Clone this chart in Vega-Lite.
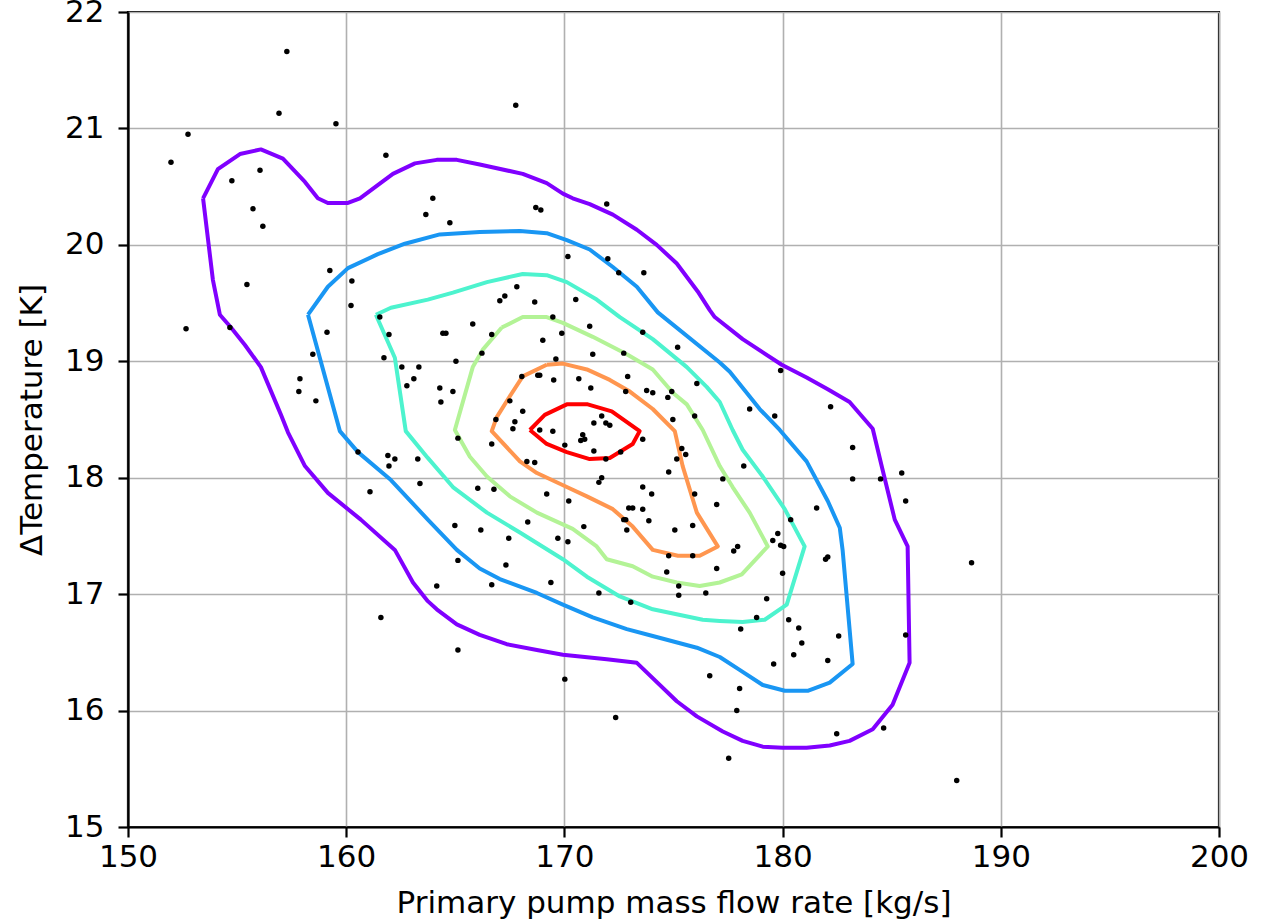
{
  "$schema": "https://vega.github.io/schema/vega-lite/v6.json",
  "width": 1091,
  "height": 815,
  "autosize": {"type": "none"},
  "padding": {"left": 128, "top": 12, "right": 52, "bottom": 95},
  "background": "white",
  "config": {
    "font": "DejaVu Sans",
    "view": {"stroke": "black", "strokeWidth": 2.2},
    "axis": {
      "grid": true,
      "gridColor": "#b0b0b0",
      "gridWidth": 1.6,
      "domainColor": "black",
      "domainWidth": 2.2,
      "tickColor": "black",
      "tickWidth": 2.2,
      "tickSize": 10,
      "labelFontSize": 31,
      "labelColor": "black",
      "titleFontSize": 31,
      "titleFontWeight": "normal",
      "titleColor": "black",
      "labelFlush": false,
      "labelOverlap": false,
      "format": "d"
    }
  },
  "datasets": {
    "pts": [
      {"x":157.28,"y":21.66},{"x":156.92,"y":21.13},{"x":159.53,"y":21.04},{"x":152.75,"y":20.95},{"x":151.97,"y":20.71},
      {"x":161.82,"y":20.77},{"x":156.05,"y":20.64},{"x":154.76,"y":20.55},{"x":155.73,"y":20.31},{"x":156.18,"y":20.16},
      {"x":163.65,"y":20.26},{"x":159.25,"y":19.78},{"x":160.26,"y":19.69},{"x":155.45,"y":19.66},{"x":167.77,"y":21.2},
      {"x":163.97,"y":20.4},{"x":164.75,"y":20.19},{"x":168.69,"y":20.32},{"x":168.92,"y":20.3},{"x":171.94,"y":20.35},
      {"x":170.16,"y":19.9},{"x":171.99,"y":19.88},{"x":172.49,"y":19.76},{"x":173.64,"y":19.76},{"x":167.82,"y":19.64},
      {"x":160.22,"y":19.48},{"x":152.66,"y":19.28},{"x":154.67,"y":19.29},{"x":159.12,"y":19.25},{"x":158.47,"y":19.06},
      {"x":161.54,"y":19.38},{"x":161.96,"y":19.23},{"x":161.73,"y":19.03},{"x":162.55,"y":18.95},{"x":163.33,"y":18.95},
      {"x":163.1,"y":18.85},{"x":162.78,"y":18.79},{"x":157.88,"y":18.85},{"x":157.83,"y":18.74},{"x":158.61,"y":18.66},
      {"x":160.54,"y":18.22},{"x":161.91,"y":18.19},{"x":162.23,"y":18.16},{"x":161.96,"y":18.1},{"x":163.28,"y":18.16},
      {"x":163.38,"y":17.95},{"x":161.09,"y":17.88},{"x":167.04,"y":19.52},{"x":167.27,"y":19.56},{"x":168.64,"y":19.51},
      {"x":170.52,"y":19.53},{"x":165.8,"y":19.32},{"x":164.43,"y":19.24},{"x":164.57,"y":19.24},{"x":166.67,"y":19.23},
      {"x":169.47,"y":19.38},{"x":171.16,"y":19.3},{"x":169.01,"y":19.18},{"x":169.88,"y":19.24},{"x":166.22,"y":19.07},
      {"x":165.03,"y":19.0},{"x":169.61,"y":19.02},{"x":171.3,"y":19.06},{"x":172.72,"y":19.07},{"x":173.59,"y":19.25},
      {"x":175.19,"y":19.12},{"x":168.05,"y":18.87},{"x":168.78,"y":18.88},{"x":168.87,"y":18.88},{"x":169.51,"y":18.84},
      {"x":170.66,"y":18.85},{"x":172.9,"y":18.87},{"x":171.21,"y":18.77},{"x":172.81,"y":18.74},{"x":173.77,"y":18.75},
      {"x":174.05,"y":18.73},{"x":174.74,"y":18.69},{"x":174.92,"y":18.74},{"x":176.07,"y":18.81},{"x":164.29,"y":18.77},
      {"x":164.89,"y":18.74},{"x":164.34,"y":18.65},{"x":167.5,"y":18.66},{"x":168.09,"y":18.57},{"x":166.86,"y":18.5},
      {"x":167.73,"y":18.48},{"x":167.64,"y":18.42},{"x":168.87,"y":18.41},{"x":169.47,"y":18.4},{"x":171.71,"y":18.53},
      {"x":171.35,"y":18.47},{"x":171.9,"y":18.47},{"x":172.08,"y":18.45},{"x":170.84,"y":18.37},{"x":170.75,"y":18.32},
      {"x":170.93,"y":18.33},{"x":170.02,"y":18.28},{"x":171.35,"y":18.23},{"x":172.58,"y":18.22},{"x":173.59,"y":18.33},
      {"x":174.97,"y":18.5},{"x":175.97,"y":18.53},{"x":165.12,"y":18.34},{"x":166.67,"y":18.29},{"x":168.28,"y":18.14},
      {"x":168.64,"y":18.13},{"x":171.9,"y":18.16},{"x":175.38,"y":18.25},{"x":175.56,"y":18.2},{"x":175.15,"y":18.16},
      {"x":174.78,"y":18.05},{"x":171.71,"y":18.0},{"x":171.58,"y":17.96},{"x":166.03,"y":17.91},{"x":166.77,"y":17.9},
      {"x":169.19,"y":17.86},{"x":170.2,"y":17.8},{"x":173.59,"y":17.92},{"x":174.0,"y":17.86},{"x":175.97,"y":17.86},
      {"x":176.98,"y":17.77},{"x":172.95,"y":17.74},{"x":173.13,"y":17.74},{"x":173.59,"y":17.73},{"x":172.72,"y":17.64},
      {"x":172.81,"y":17.64},{"x":173.87,"y":17.63},{"x":172.86,"y":17.55},{"x":175.06,"y":17.55},{"x":175.88,"y":17.59},
      {"x":164.98,"y":17.59},{"x":166.17,"y":17.55},{"x":167.45,"y":17.48},{"x":168.32,"y":17.62},{"x":170.89,"y":17.58},
      {"x":169.7,"y":17.48},{"x":170.16,"y":17.45},{"x":165.12,"y":17.29},{"x":174.78,"y":17.33},{"x":175.88,"y":17.33},
      {"x":179.91,"y":18.92},{"x":182.2,"y":18.61},{"x":178.49,"y":18.59},{"x":179.64,"y":18.53},{"x":183.21,"y":18.26},
      {"x":178.22,"y":18.1},{"x":177.26,"y":17.99},{"x":183.21,"y":17.99},{"x":184.49,"y":17.99},{"x":185.46,"y":18.04},
      {"x":185.64,"y":17.8},{"x":181.56,"y":17.74},{"x":180.37,"y":17.64},{"x":179.78,"y":17.52},{"x":179.55,"y":17.46},
      {"x":179.91,"y":17.42},{"x":180.05,"y":17.41},{"x":177.94,"y":17.41},{"x":177.76,"y":17.37},{"x":182.07,"y":17.32},
      {"x":181.97,"y":17.3},{"x":176.98,"y":17.22},{"x":180.0,"y":17.18},{"x":188.66,"y":17.27},{"x":179.27,"y":16.96},
      {"x":178.81,"y":16.8},{"x":178.08,"y":16.7},{"x":180.28,"y":16.78},{"x":180.74,"y":16.71},{"x":180.88,"y":16.58},
      {"x":180.51,"y":16.48},{"x":182.57,"y":16.64},{"x":182.07,"y":16.43},{"x":185.64,"y":16.65},{"x":179.59,"y":16.4},
      {"x":176.66,"y":16.3},{"x":178.03,"y":16.19},{"x":177.9,"y":16.0},{"x":182.48,"y":15.8},{"x":184.63,"y":15.85},
      {"x":177.53,"y":15.59},{"x":187.98,"y":15.4},{"x":167.32,"y":17.25},{"x":164.15,"y":17.07},{"x":166.67,"y":17.08},
      {"x":169.38,"y":17.1},{"x":171.58,"y":17.01},{"x":173.04,"y":16.93},{"x":174.69,"y":17.19},{"x":175.24,"y":17.07},
      {"x":175.24,"y":16.99},{"x":176.48,"y":17.01},{"x":165.12,"y":16.52},{"x":170.02,"y":16.27},{"x":172.35,"y":15.94},
      {"x":161.59,"y":16.8}
    ],
    "cont": [
      {"c":"a","i":0,"x":153.44,"y":20.4},{"c":"a","i":1,"x":154.12,"y":20.65},{"c":"a","i":2,"x":155.13,"y":20.78},{"c":"a","i":3,"x":156.09,"y":20.82},{"c":"a","i":4,"x":157.1,"y":20.74},
      {"c":"a","i":5,"x":158.11,"y":20.54},{"c":"a","i":6,"x":158.7,"y":20.4},{"c":"a","i":7,"x":159.16,"y":20.36},{"c":"a","i":8,"x":160.08,"y":20.36},{"c":"a","i":9,"x":160.63,"y":20.4},
      {"c":"a","i":10,"x":162.14,"y":20.61},{"c":"a","i":11,"x":163.15,"y":20.7},{"c":"a","i":12,"x":164.15,"y":20.73},{"c":"a","i":13,"x":165.07,"y":20.73},{"c":"a","i":14,"x":166.12,"y":20.69},
      {"c":"a","i":15,"x":168.09,"y":20.61},{"c":"a","i":16,"x":169.19,"y":20.53},{"c":"a","i":17,"x":169.93,"y":20.44},{"c":"a","i":18,"x":170.38,"y":20.4},{"c":"a","i":19,"x":171.16,"y":20.35},
      {"c":"a","i":20,"x":172.22,"y":20.26},{"c":"a","i":21,"x":173.32,"y":20.13},{"c":"a","i":22,"x":174.23,"y":20.0},{"c":"a","i":23,"x":175.15,"y":19.84},{"c":"a","i":24,"x":176.11,"y":19.6},
      {"c":"a","i":25,"x":176.66,"y":19.44},{"c":"a","i":26,"x":176.89,"y":19.38},{"c":"a","i":27,"x":178.17,"y":19.19},{"c":"a","i":28,"x":179.96,"y":18.97},{"c":"a","i":29,"x":181.1,"y":18.86},
      {"c":"a","i":30,"x":182.07,"y":18.76},{"c":"a","i":31,"x":183.07,"y":18.65},{"c":"a","i":32,"x":184.13,"y":18.42},{"c":"a","i":33,"x":184.54,"y":18.1},{"c":"a","i":34,"x":185.14,"y":17.64},
      {"c":"a","i":35,"x":185.73,"y":17.41},{"c":"a","i":36,"x":185.82,"y":16.41},{"c":"a","i":37,"x":185.04,"y":16.05},{"c":"a","i":38,"x":184.13,"y":15.84},{"c":"a","i":39,"x":183.07,"y":15.74},
      {"c":"a","i":40,"x":182.16,"y":15.7},{"c":"a","i":41,"x":181.1,"y":15.68},{"c":"a","i":42,"x":180.0,"y":15.68},{"c":"a","i":43,"x":179.09,"y":15.69},{"c":"a","i":44,"x":178.17,"y":15.74},
      {"c":"a","i":45,"x":177.26,"y":15.82},{"c":"a","i":46,"x":176.07,"y":15.95},{"c":"a","i":47,"x":175.15,"y":16.08},{"c":"a","i":48,"x":173.32,"y":16.41},{"c":"a","i":49,"x":171.94,"y":16.44},
      {"c":"a","i":50,"x":169.93,"y":16.48},{"c":"a","i":51,"x":168.74,"y":16.52},{"c":"a","i":52,"x":167.36,"y":16.57},{"c":"a","i":53,"x":166.12,"y":16.65},{"c":"a","i":54,"x":165.07,"y":16.74},
      {"c":"a","i":55,"x":164.15,"y":16.87},{"c":"a","i":56,"x":163.74,"y":16.94},{"c":"a","i":57,"x":163.06,"y":17.1},{"c":"a","i":58,"x":162.23,"y":17.38},{"c":"a","i":59,"x":160.67,"y":17.64},
      {"c":"a","i":60,"x":159.16,"y":17.87},{"c":"a","i":61,"x":158.11,"y":18.1},{"c":"a","i":62,"x":157.33,"y":18.39},{"c":"a","i":63,"x":157.01,"y":18.54},{"c":"a","i":64,"x":156.09,"y":18.95},
      {"c":"a","i":65,"x":155.36,"y":19.14},{"c":"a","i":66,"x":154.72,"y":19.29},{"c":"a","i":67,"x":154.21,"y":19.4},{"c":"a","i":68,"x":153.89,"y":19.7},{"c":"a","i":69,"x":153.44,"y":20.4},

      {"c":"b","i":0,"x":158.25,"y":19.4},{"c":"b","i":1,"x":159.16,"y":19.64},{"c":"b","i":2,"x":160.08,"y":19.8},{"c":"b","i":3,"x":161.45,"y":19.92},{"c":"b","i":4,"x":162.69,"y":20.01},
      {"c":"b","i":5,"x":164.29,"y":20.09},{"c":"b","i":6,"x":166.12,"y":20.11},{"c":"b","i":7,"x":167.96,"y":20.12},{"c":"b","i":8,"x":169.19,"y":20.1},{"c":"b","i":9,"x":170.11,"y":20.04},
      {"c":"b","i":10,"x":171.16,"y":19.96},{"c":"b","i":11,"x":172.22,"y":19.81},{"c":"b","i":12,"x":173.32,"y":19.64},{"c":"b","i":13,"x":174.28,"y":19.42},{"c":"b","i":14,"x":177.12,"y":18.99},
      {"c":"b","i":15,"x":177.58,"y":18.91},{"c":"b","i":16,"x":178.95,"y":18.59},{"c":"b","i":17,"x":179.87,"y":18.41},{"c":"b","i":18,"x":181.1,"y":18.14},{"c":"b","i":19,"x":182.07,"y":17.8},
      {"c":"b","i":20,"x":182.62,"y":17.57},{"c":"b","i":21,"x":182.75,"y":17.38},{"c":"b","i":22,"x":183.21,"y":16.4},{"c":"b","i":23,"x":182.16,"y":16.24},{"c":"b","i":24,"x":181.15,"y":16.17},
      {"c":"b","i":25,"x":180.1,"y":16.17},{"c":"b","i":26,"x":179.09,"y":16.22},{"c":"b","i":27,"x":178.03,"y":16.35},{"c":"b","i":28,"x":177.12,"y":16.46},{"c":"b","i":29,"x":176.07,"y":16.54},
      {"c":"b","i":30,"x":174.05,"y":16.64},{"c":"b","i":31,"x":172.86,"y":16.7},{"c":"b","i":32,"x":171.3,"y":16.8},{"c":"b","i":33,"x":169.93,"y":16.91},{"c":"b","i":34,"x":168.74,"y":17.01},
      {"c":"b","i":35,"x":167.04,"y":17.13},{"c":"b","i":36,"x":166.12,"y":17.22},{"c":"b","i":37,"x":165.07,"y":17.38},{"c":"b","i":38,"x":163.74,"y":17.64},{"c":"b","i":39,"x":162.05,"y":17.98},
      {"c":"b","i":40,"x":160.54,"y":18.22},{"c":"b","i":41,"x":159.71,"y":18.4},{"c":"b","i":42,"x":158.25,"y":19.4},

      {"c":"c","i":0,"x":161.36,"y":19.4},{"c":"c","i":1,"x":162.05,"y":19.46},{"c":"c","i":2,"x":163.74,"y":19.53},{"c":"c","i":3,"x":164.89,"y":19.59},{"c":"c","i":4,"x":166.45,"y":19.68},
      {"c":"c","i":5,"x":168.09,"y":19.75},{"c":"c","i":6,"x":169.19,"y":19.74},{"c":"c","i":7,"x":170.11,"y":19.68},{"c":"c","i":8,"x":171.48,"y":19.53},{"c":"c","i":9,"x":172.54,"y":19.38},
      {"c":"c","i":10,"x":174.05,"y":19.19},{"c":"c","i":11,"x":175.61,"y":18.95},{"c":"c","i":12,"x":176.52,"y":18.78},{"c":"c","i":13,"x":177.12,"y":18.65},{"c":"c","i":14,"x":177.71,"y":18.41},
      {"c":"c","i":15,"x":178.17,"y":18.24},{"c":"c","i":16,"x":179.09,"y":18.01},{"c":"c","i":17,"x":180.1,"y":17.73},{"c":"c","i":18,"x":181.01,"y":17.41},{"c":"c","i":19,"x":180.19,"y":16.91},
      {"c":"c","i":20,"x":179.18,"y":16.78},{"c":"c","i":21,"x":178.17,"y":16.76},{"c":"c","i":22,"x":177.12,"y":16.77},{"c":"c","i":23,"x":176.34,"y":16.78},{"c":"c","i":24,"x":174.05,"y":16.87},
      {"c":"c","i":25,"x":172.54,"y":16.98},{"c":"c","i":26,"x":171.03,"y":17.15},{"c":"c","i":27,"x":169.93,"y":17.3},{"c":"c","i":28,"x":167.96,"y":17.53},{"c":"c","i":29,"x":166.45,"y":17.7},
      {"c":"c","i":30,"x":164.89,"y":17.92},{"c":"c","i":31,"x":163.74,"y":18.17},{"c":"c","i":32,"x":162.73,"y":18.4},{"c":"c","i":33,"x":162.23,"y":19.03},{"c":"c","i":34,"x":161.36,"y":19.4},

      {"c":"d","i":0,"x":167.13,"y":19.29},{"c":"d","i":1,"x":168.09,"y":19.38},{"c":"d","i":2,"x":169.19,"y":19.38},{"c":"d","i":3,"x":169.93,"y":19.33},{"c":"d","i":4,"x":171.3,"y":19.21},
      {"c":"d","i":5,"x":172.86,"y":19.06},{"c":"d","i":6,"x":174.05,"y":18.93},{"c":"d","i":7,"x":174.97,"y":18.73},{"c":"d","i":8,"x":175.61,"y":18.63},{"c":"d","i":9,"x":176.34,"y":18.41},
      {"c":"d","i":10,"x":177.12,"y":18.1},{"c":"d","i":11,"x":177.71,"y":17.92},{"c":"d","i":12,"x":178.49,"y":17.7},{"c":"d","i":13,"x":179.32,"y":17.41},{"c":"d","i":14,"x":178.13,"y":17.17},
      {"c":"d","i":15,"x":177.12,"y":17.1},{"c":"d","i":16,"x":176.2,"y":17.07},{"c":"d","i":17,"x":175.15,"y":17.1},{"c":"d","i":18,"x":174.05,"y":17.15},{"c":"d","i":19,"x":173.13,"y":17.24},
      {"c":"d","i":20,"x":171.94,"y":17.3},{"c":"d","i":21,"x":171.48,"y":17.41},{"c":"d","i":22,"x":170.38,"y":17.56},{"c":"d","i":23,"x":168.74,"y":17.7},{"c":"d","i":24,"x":167.5,"y":17.84},
      {"c":"d","i":25,"x":166.45,"y":18.01},{"c":"d","i":26,"x":165.67,"y":18.18},{"c":"d","i":27,"x":164.98,"y":18.41},{"c":"d","i":28,"x":165.8,"y":18.95},{"c":"d","i":29,"x":166.26,"y":19.1},
      {"c":"d","i":30,"x":167.13,"y":19.29},

      {"c":"e","i":0,"x":169.19,"y":18.97},{"c":"e","i":1,"x":169.93,"y":18.98},{"c":"e","i":2,"x":171.03,"y":18.93},{"c":"e","i":3,"x":172.08,"y":18.84},{"c":"e","i":4,"x":173.0,"y":18.74},
      {"c":"e","i":5,"x":174.05,"y":18.59},{"c":"e","i":6,"x":175.06,"y":18.4},{"c":"e","i":7,"x":175.42,"y":18.1},{"c":"e","i":8,"x":176.07,"y":17.7},{"c":"e","i":9,"x":177.03,"y":17.41},
      {"c":"e","i":10,"x":176.2,"y":17.33},{"c":"e","i":11,"x":175.2,"y":17.33},{"c":"e","i":12,"x":174.05,"y":17.38},{"c":"e","i":13,"x":173.13,"y":17.58},{"c":"e","i":14,"x":172.22,"y":17.73},
      {"c":"e","i":15,"x":171.03,"y":17.84},{"c":"e","i":16,"x":170.11,"y":17.92},{"c":"e","i":17,"x":168.74,"y":18.04},{"c":"e","i":18,"x":167.96,"y":18.14},{"c":"e","i":19,"x":166.67,"y":18.4},
      {"c":"e","i":20,"x":166.9,"y":18.52},{"c":"e","i":21,"x":167.5,"y":18.7},{"c":"e","i":22,"x":168.09,"y":18.87},{"c":"e","i":23,"x":169.19,"y":18.97},

      {"c":"f","i":0,"x":168.42,"y":18.41},{"c":"f","i":1,"x":169.1,"y":18.54},{"c":"f","i":2,"x":170.11,"y":18.63},{"c":"f","i":3,"x":171.07,"y":18.63},{"c":"f","i":4,"x":172.17,"y":18.57},
      {"c":"f","i":5,"x":173.45,"y":18.4},{"c":"f","i":6,"x":173.13,"y":18.29},{"c":"f","i":7,"x":172.08,"y":18.17},{"c":"f","i":8,"x":171.16,"y":18.16},{"c":"f","i":9,"x":170.11,"y":18.22},
      {"c":"f","i":10,"x":169.19,"y":18.29},{"c":"f","i":11,"x":168.42,"y":18.41}
    ]
  },
  "layer": [
    {
      "data": {"name": "cont"},
      "mark": {"type": "line", "strokeWidth": 4, "strokeJoin": "round", "clip": true},
      "encoding": {
        "x": {"field": "x", "type": "quantitative", "scale": {"domain": [150, 200], "nice": false, "zero": false},
              "axis": {"values": [150, 160, 170, 180, 190, 200], "title": "Primary pump mass flow rate [kg/s]", "labelPadding": 5, "titlePadding": 16}},
        "y": {"field": "y", "type": "quantitative", "scale": {"domain": [15, 22], "nice": false, "zero": false},
              "axis": {"values": [15, 16, 17, 18, 19, 20, 21, 22], "title": "ΔTemperature [K]", "labelPadding": 14, "titlePadding": 16}},
        "color": {"field": "c", "type": "nominal", "legend": null,
                  "scale": {"domain": ["a", "b", "c", "d", "e", "f"], "range": ["#8000ff", "#1996f3", "#4df3ce", "#b3f396", "#ff964f", "#ff0000"]}},
        "order": {"field": "i", "type": "quantitative"}
      }
    },
    {
      "data": {"name": "pts"},
      "mark": {"type": "circle", "size": 30, "color": "black", "opacity": 1},
      "encoding": {
        "x": {"field": "x", "type": "quantitative"},
        "y": {"field": "y", "type": "quantitative"}
      }
    }
  ]
}
